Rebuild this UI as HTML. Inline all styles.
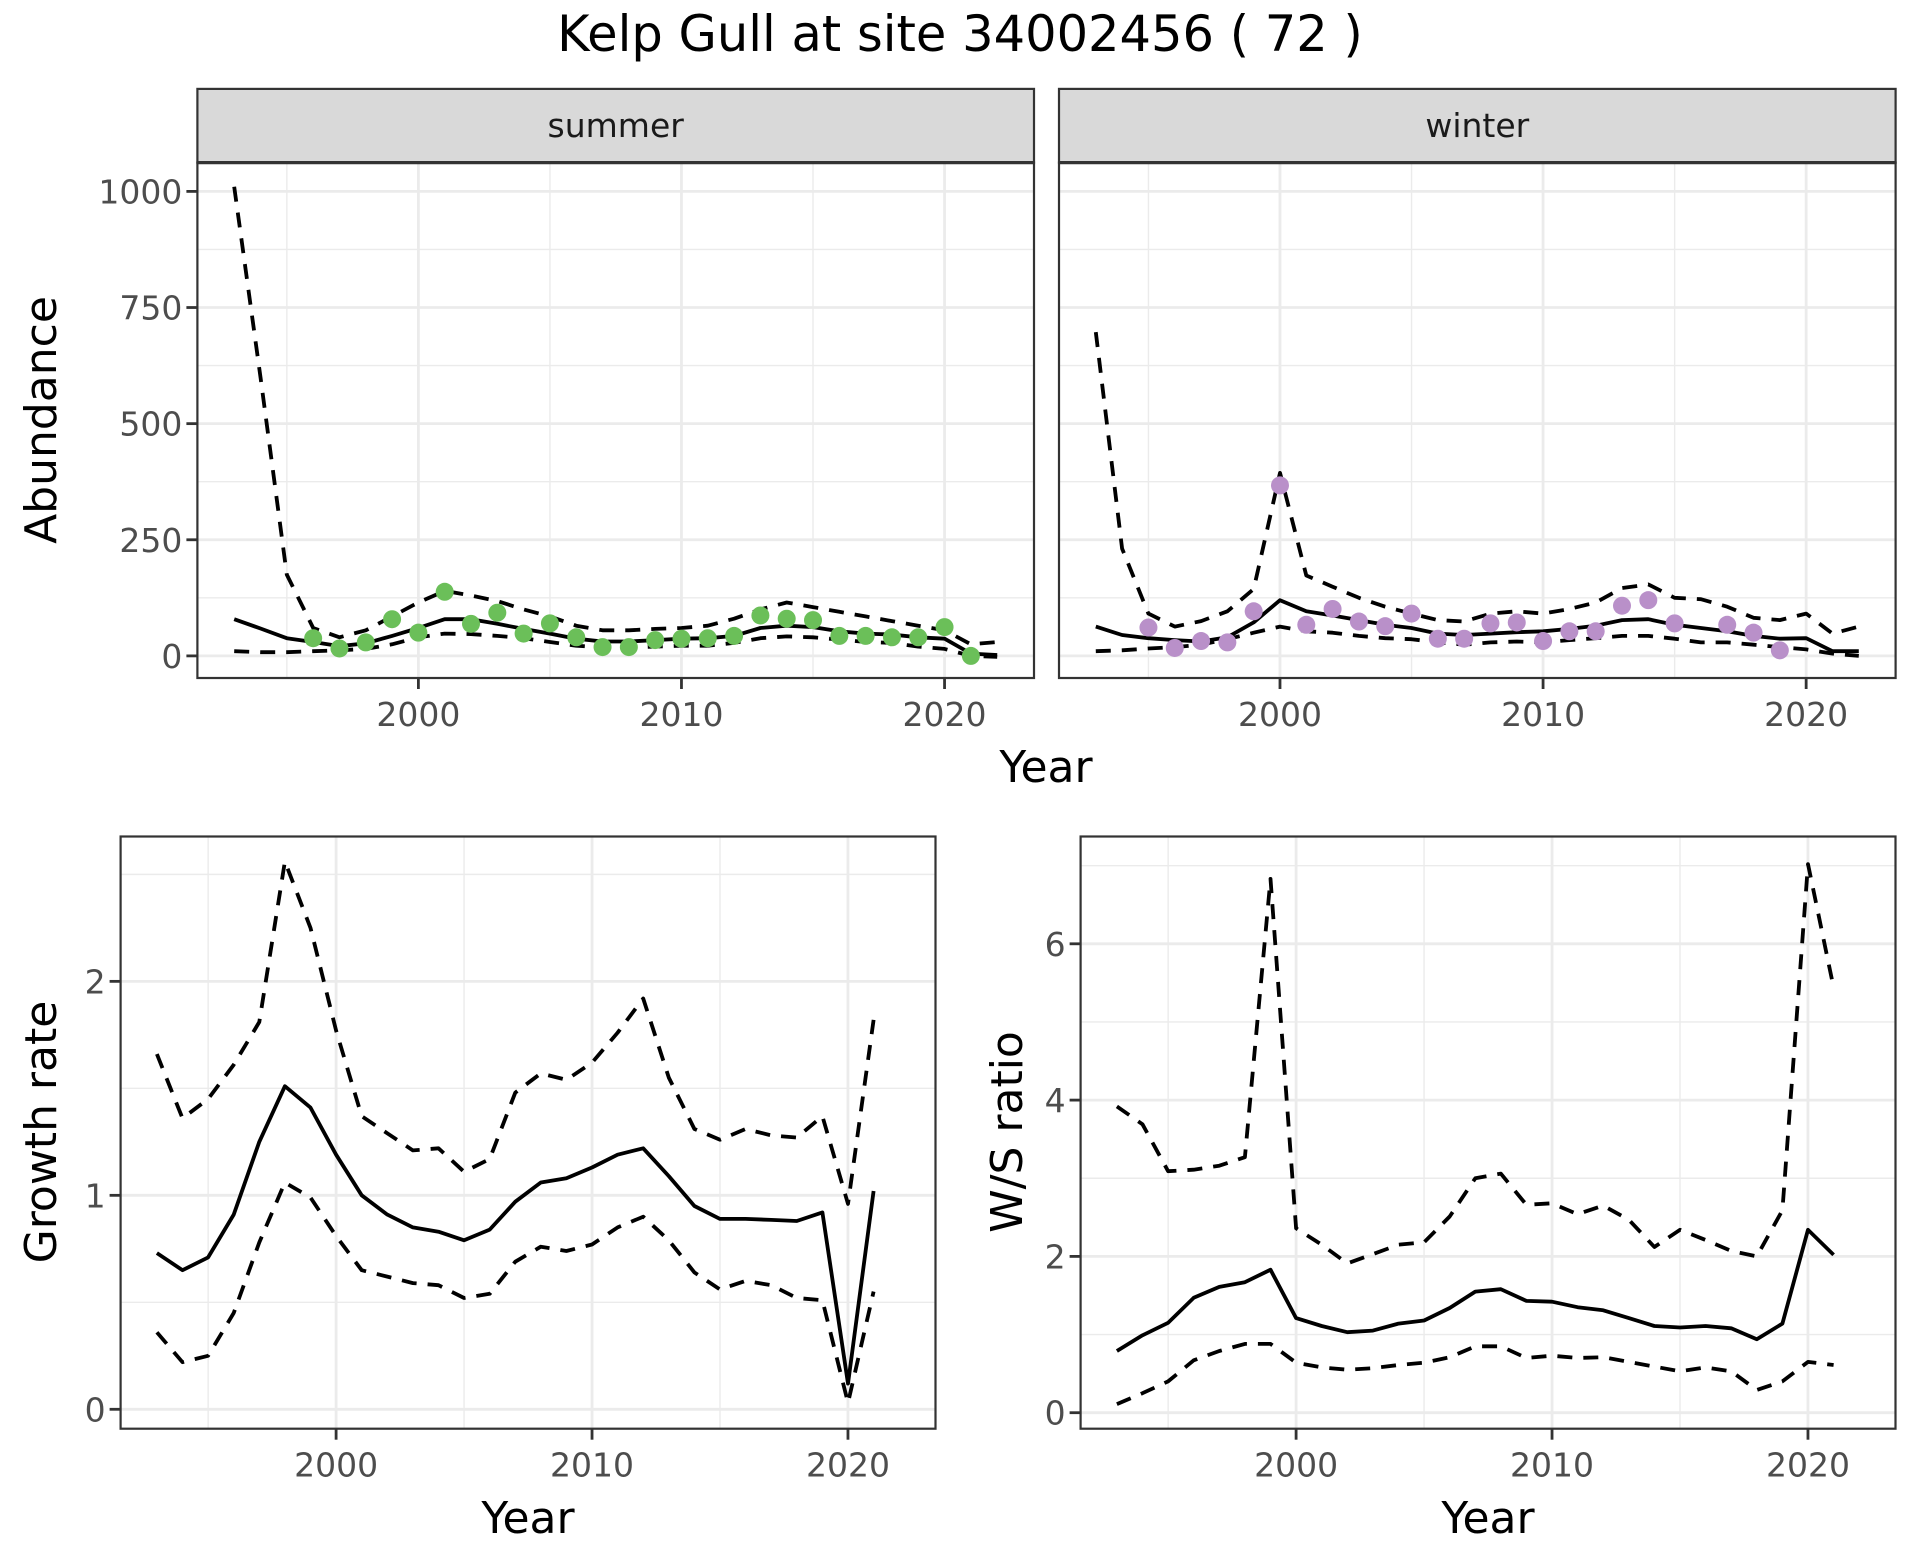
<!DOCTYPE html>
<html><head><meta charset="utf-8"><style>
html,body{margin:0;padding:0;background:#fff;}
svg{display:block;font-family:"DejaVu Sans","Liberation Sans",sans-serif;}
</style></head><body>
<svg id="chart" width="1920" height="1560" viewBox="0 0 1920 1560" xmlns="http://www.w3.org/2000/svg">
<rect x="0" y="0" width="1920" height="1560" fill="#fff"/>
<text x="960" y="51" text-anchor="middle" font-size="49.5" fill="#000">Kelp Gull at site 34002456 ( 72 )</text>
</svg>
<script>
const yearsTop = [1993,1994,1995,1996,1997,1998,1999,2000,2001,2002,2003,2004,2005,2006,2007,2008,2009,2010,2011,2012,2013,2014,2015,2016,2017,2018,2019,2020,2021,2022];
const summerMean = [79,59,38,30,21,27,43,60,79,79,69,58,48,37,31,31,34,37,38,43,60,65,62,53,48,46,40,37,5,2];
const summerUpper = [1010,600,175,60,40,55,85,115,140,130,118,100,85,65,55,55,58,60,65,80,100,115,105,95,85,75,65,55,25,30];
const summerLower = [10,8,8,10,12,15,25,40,48,47,43,38,30,22,18,18,20,22,22,28,38,42,40,35,30,28,20,15,0,-2];
const summerPtYears = [1996,1997,1998,1999,2000,2001,2002,2003,2004,2005,2006,2007,2008,2009,2010,2011,2012,2013,2014,2015,2016,2017,2018,2019,2020,2021];
const summerPoints = [38,16,29,79,50,138,69,93,48,70,40,19,19,34,37,38,43,87,80,77,43,43,40,40,62,0];
const winterMean = [63,45,38,34,31,40,72,120,96,87,77,67,60,48,45,48,51,53,58,65,77,79,67,60,53,43,37,38,10,10];
const winterUpper = [697,231,91,63,75,96,144,394,173,149,125,106,91,77,74,91,96,91,101,115,146,154,125,122,106,82,77,91,48,63];
const winterLower = [10,12,16,19,24,36,50,63,53,50,43,38,36,29,24,29,31,29,34,38,43,43,37,29,29,24,19,14,5,0];
const winterPtYears = [1995,1996,1997,1998,1999,2000,2001,2002,2003,2004,2005,2006,2007,2008,2009,2010,2011,2012,2013,2014,2015,2017,2018,2019];
const winterPoints = [61,17,32,29,96,367,67,101,74,64,91,37,37,70,72,32,53,53,108,120,70,67,50,12];
const yearsBottom = [1993,1994,1995,1996,1997,1998,1999,2000,2001,2002,2003,2004,2005,2006,2007,2008,2009,2010,2011,2012,2013,2014,2015,2016,2017,2018,2019,2020,2021];
const growthMean = [0.73,0.65,0.71,0.91,1.25,1.51,1.41,1.19,1.00,0.91,0.85,0.83,0.79,0.84,0.97,1.06,1.08,1.13,1.19,1.22,1.09,0.95,0.89,0.89,0.885,0.88,0.92,0.12,1.02];
const growthUpper = [1.66,1.36,1.45,1.61,1.81,2.56,2.25,1.77,1.37,1.29,1.21,1.22,1.11,1.17,1.48,1.57,1.54,1.62,1.76,1.92,1.55,1.31,1.26,1.31,1.28,1.27,1.37,0.96,1.82];
const growthLower = [0.36,0.22,0.25,0.45,0.78,1.06,0.99,0.81,0.65,0.62,0.59,0.58,0.52,0.54,0.69,0.76,0.74,0.77,0.85,0.90,0.79,0.64,0.56,0.60,0.58,0.52,0.51,0.03,0.55];
const ratioMean = [0.79,0.99,1.15,1.47,1.61,1.67,1.83,1.21,1.11,1.03,1.05,1.14,1.18,1.34,1.55,1.58,1.43,1.42,1.35,1.31,1.21,1.11,1.09,1.11,1.08,0.94,1.14,2.34,2.02];
const ratioUpper = [3.92,3.69,3.09,3.11,3.16,3.27,6.83,2.36,2.15,1.91,2.03,2.15,2.18,2.51,3.00,3.06,2.66,2.68,2.54,2.65,2.47,2.12,2.34,2.21,2.07,2.00,2.59,7.02,5.44];
const ratioLower = [0.11,0.25,0.40,0.67,0.79,0.88,0.88,0.64,0.58,0.55,0.57,0.61,0.64,0.71,0.85,0.85,0.70,0.73,0.70,0.71,0.65,0.59,0.53,0.58,0.53,0.29,0.40,0.65,0.61];
const xTickLabels = ["2000","2010","2020"];
const xTickValues = [2000,2010,2020];
const xMinorValues = [1995,2005,2015];
const abundTicks = [0,250,500,750,1000];
const abundMinor = [125,375,625,875];
const growthTicks = [0,1,2];
const growthMinor = [0.5,1.5,2.5];
const ratioTicks = [0,2,4,6];
const ratioMinor = [1,3,5,7];

const svg = document.getElementById('chart');
const NS = 'http://www.w3.org/2000/svg';
function mk(tag, attrs, parent){
  const e = document.createElementNS(NS, tag);
  for (const k in attrs) e.setAttribute(k, attrs[k]);
  (parent||svg).appendChild(e);
  return e;
}
function scale(d0,d1,r0,r1){ return v => r0 + (v-d0)/(d1-d0)*(r1-r0); }

function panel(name, box, xdom, ydom, yTicks, yMinor, showY){
  const g = mk('g', {});
  
  
  const x = scale(xdom[0], xdom[1], box.l, box.r);
  const y = scale(ydom[0], ydom[1], box.b, box.t);
  mk('rect', {x:box.l, y:box.t, width:box.r-box.l, height:box.b-box.t, fill:'#fff'}, g);
  xMinorValues.forEach(v=>{ const l = mk('line',{x1:x(v),x2:x(v),y1:box.t,y2:box.b,stroke:'#ebebeb','stroke-width':1.4},g);
      });
  yMinor.forEach(v=>{ const l = mk('line',{x1:box.l,x2:box.r,y1:y(v),y2:y(v),stroke:'#ebebeb','stroke-width':1.4},g);
      });
  xTickValues.forEach(v=>{ const l = mk('line',{x1:x(v),x2:x(v),y1:box.t,y2:box.b,stroke:'#ebebeb','stroke-width':2.8},g);
      });
  yTicks.forEach(v=>{ const l = mk('line',{x1:box.l,x2:box.r,y1:y(v),y2:y(v),stroke:'#ebebeb','stroke-width':2.8},g);
      });
  xTickValues.forEach((v,i)=>{
    mk('line',{x1:x(v),x2:x(v),y1:box.b,y2:box.b+11,stroke:'#333','stroke-width':2.8},g);
    const t = mk('text',{x:x(v),y:box.b+48,'text-anchor':'middle','font-size':33,fill:'#4d4d4d'},g);
    t.textContent = xTickLabels[i];
     
  });
  if (showY) yTicks.forEach(v=>{
    mk('line',{x1:box.l-11,x2:box.l,y1:y(v),y2:y(v),stroke:'#333','stroke-width':2.8},g);
    const t = mk('text',{x:box.l-15,y:y(v)+12,'text-anchor':'end','font-size':33,fill:'#4d4d4d'},g);
    t.textContent = String(v);
     
  });
  const clipId = 'clip-' + name;
  const cp = mk('clipPath',{id:clipId},g);
  mk('rect',{x:box.l,y:box.t,width:box.r-box.l,height:box.b-box.t},cp);
  const data = mk('g',{'clip-path':'url(#'+clipId+')'},g);
  mk('rect', {x:box.l, y:box.t, width:box.r-box.l, height:box.b-box.t, fill:'none', stroke:'#333', 'stroke-width':2.2}, g);
  return {g:data, x, y};
}
function line(p, xs, ys, dashed, name){
  const d = xs.map((v,i)=>(i?'L':'M')+p.x(v).toFixed(1)+','+p.y(ys[i]).toFixed(1)).join(' ');
  const e = mk('path',{d, fill:'none', stroke:'#000','stroke-width':3.8,'stroke-dasharray':dashed?'15 11':'none','stroke-linejoin':'round'}, p.g);
  
  
}
function points(p, xs, ys, color, name){
  xs.forEach((v,i)=>{
    const c = mk('circle',{cx:p.x(v), cy:p.y(ys[i]), r:9, fill:color}, p.g);
    
    
  });
}
function strip(l, r, label, name){
  const rr = mk('rect',{x:l,y:88.9,width:r-l,height:73.7,fill:'#d9d9d9',stroke:'#333','stroke-width':2.2});
  
  
  mk('line',{x1:l,x2:r,y1:162.6,y2:162.6,stroke:'#333','stroke-width':3.2});
  const t = mk('text',{x:(l+r)/2,y:137,'text-anchor':'middle','font-size':33,fill:'#1a1a1a'});
  t.textContent = label;
  
  
}
function label(txt, x, y, rot, name){
  const t = mk('text',{x, y, 'text-anchor':'middle','font-size':44,fill:'#000', transform: rot?('rotate(-90 '+x+' '+y+')'):''});
  t.textContent = txt;
  
  
}

const xdomTop = [1991.6, 2023.4];
const topBoxS = {l:197.4, r:1034, t:162.6, b:678};
const topBoxW = {l:1059, r:1895.6, t:162.6, b:678};
const ydomTop = [-47.6, 1062];
const pS = panel('summer', topBoxS, xdomTop, ydomTop, abundTicks, abundMinor, true);
line(pS, yearsTop, summerUpper, true, 'summer-upper-line');
line(pS, yearsTop, summerLower, true, 'summer-lower-line');
line(pS, yearsTop, summerMean, false, 'summer-mean-line');
points(pS, summerPtYears, summerPoints, '#6bbf59', 'summer-count-point');
const pW = panel('winter', topBoxW, xdomTop, ydomTop, abundTicks, abundMinor, false);
line(pW, yearsTop, winterUpper, true, 'winter-upper-line');
line(pW, yearsTop, winterLower, true, 'winter-lower-line');
line(pW, yearsTop, winterMean, false, 'winter-mean-line');
points(pW, winterPtYears, winterPoints, '#b990c9', 'winter-count-point');
strip(197.4, 1034, 'summer', 'summer');
strip(1059, 1895.6, 'winter', 'winter');
label('Abundance', 56, 420, true, 'abundance-y-axis-title');
label('Year', 1046, 782, false, 'top-x-axis-title');

const xdomBot = [1991.58, 2023.42];
const pG = panel('growth', {l:120.6, r:935.5, t:836.5, b:1428.7}, xdomBot, [-0.0907, 2.677], growthTicks, growthMinor, true);
line(pG, yearsBottom, growthUpper, true, 'growth-upper-line');
line(pG, yearsBottom, growthLower, true, 'growth-lower-line');
line(pG, yearsBottom, growthMean, false, 'growth-mean-line');
label('Growth rate', 56, 1132, true, 'growth-y-axis-title');
label('Year', 528, 1533, false, 'growth-x-axis-title');

const pR = panel('ratio', {l:1080.6, r:1895.5, t:836.5, b:1428.7}, xdomBot, [-0.2047, 7.373], ratioTicks, ratioMinor, true);
line(pR, yearsBottom, ratioUpper, true, 'ratio-upper-line');
line(pR, yearsBottom, ratioLower, true, 'ratio-lower-line');
line(pR, yearsBottom, ratioMean, false, 'ratio-mean-line');
label('W/S ratio', 1022, 1132, true, 'ratio-y-axis-title');
label('Year', 1488, 1533, false, 'ratio-x-axis-title');
</script>
</body></html>
